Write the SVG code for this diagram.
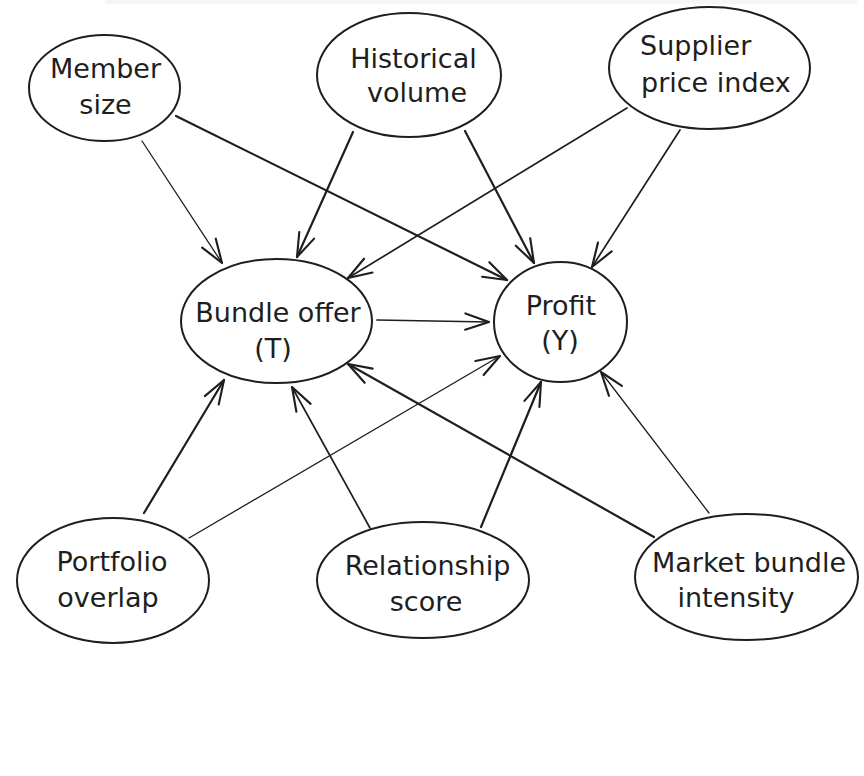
<svg xmlns="http://www.w3.org/2000/svg" width="864" height="776" viewBox="0 0 864 776">
<style>
.node ellipse{fill:none;stroke:#1e1e1e;stroke-width:2}
.node text{font-family:"DejaVu Sans","Liberation Sans",sans-serif;font-size:27px;fill:#1e1e1e;text-anchor:middle}
.node text.l{text-anchor:start}
#connectors line{stroke:#1e1e1e;fill:none;stroke-linecap:round;marker-end:url(#ah)}
.thin{stroke-width:1.3}
.med{stroke-width:1.7}
.thick{stroke-width:2.2}
</style>
<defs>
<marker id="ah" markerUnits="userSpaceOnUse" orient="auto" refX="0" refY="0" markerWidth="30" markerHeight="30" viewBox="-22 -11 24 22" overflow="visible">
<path d="M-19,-6.5 L0,0 L-19,6.5" fill="none" stroke="#1e1e1e" stroke-width="1.7" stroke-linecap="round" stroke-linejoin="round"/>
</marker>
</defs>
<rect width="864" height="776" fill="#ffffff"/>
<rect x="105" y="0" width="752" height="4" fill="#f6f6f6"/>
<g id="connectors">
<line class="thin" x1="142" y1="141" x2="222" y2="263"/>
<line class="thick" x1="176" y1="116" x2="507" y2="280"/>
<line class="thick" x1="353" y1="132" x2="297" y2="257"/>
<line class="thick" x1="465" y1="131" x2="534" y2="263"/>
<line class="med" x1="627" y1="108" x2="348" y2="278"/>
<line class="med" x1="680" y1="130" x2="592" y2="267"/>
<line class="med" x1="377" y1="320" x2="489" y2="322"/>
<line class="thick" x1="144" y1="513" x2="224" y2="380"/>
<line class="thin" x1="189" y1="538" x2="500" y2="356"/>
<line class="med" x1="370" y1="528" x2="292" y2="387"/>
<line class="thick" x1="481" y1="527" x2="541" y2="382"/>
<line class="thick" x1="654" y1="537" x2="348" y2="364"/>
<line class="thin" x1="709" y1="513" x2="601" y2="372"/>
</g>
<g id="member-size" class="node">
<ellipse cx="104.5" cy="88" rx="75.5" ry="53"/>
<text x="105.5" y="78">Member</text>
<text x="105.5" y="114">size</text>
</g>
<g id="historical-volume" class="node">
<ellipse cx="409" cy="75" rx="92" ry="62"/>
<text x="413.5" y="68">Historical</text>
<text x="417" y="102">volume</text>
</g>
<g id="supplier-price-index" class="node">
<ellipse cx="709.5" cy="68" rx="100.5" ry="61"/>
<text class="l" x="640" y="55">Supplier</text>
<text class="l" x="641" y="92">price index</text>
</g>
<g id="bundle-offer" class="node">
<ellipse cx="276.5" cy="321" rx="95.5" ry="62"/>
<text x="278" y="322">Bundle offer</text>
<text x="273" y="358">(T)</text>
</g>
<g id="profit" class="node">
<ellipse cx="560.5" cy="322" rx="66.5" ry="60"/>
<text x="561" y="315">Profit</text>
<text x="560" y="350">(Y)</text>
</g>
<g id="portfolio-overlap" class="node">
<ellipse cx="113" cy="580.5" rx="96" ry="62.5"/>
<text x="112" y="571">Portfolio</text>
<text x="108" y="607">overlap</text>
</g>
<g id="relationship-score" class="node">
<ellipse cx="423" cy="580" rx="106" ry="58"/>
<text x="427.5" y="575">Relationship</text>
<text x="426" y="611">score</text>
</g>
<g id="market-bundle-intensity" class="node">
<ellipse cx="746.5" cy="577" rx="111.5" ry="63"/>
<text x="749" y="572">Market bundle</text>
<text x="736" y="607">intensity</text>
</g>
</svg>
